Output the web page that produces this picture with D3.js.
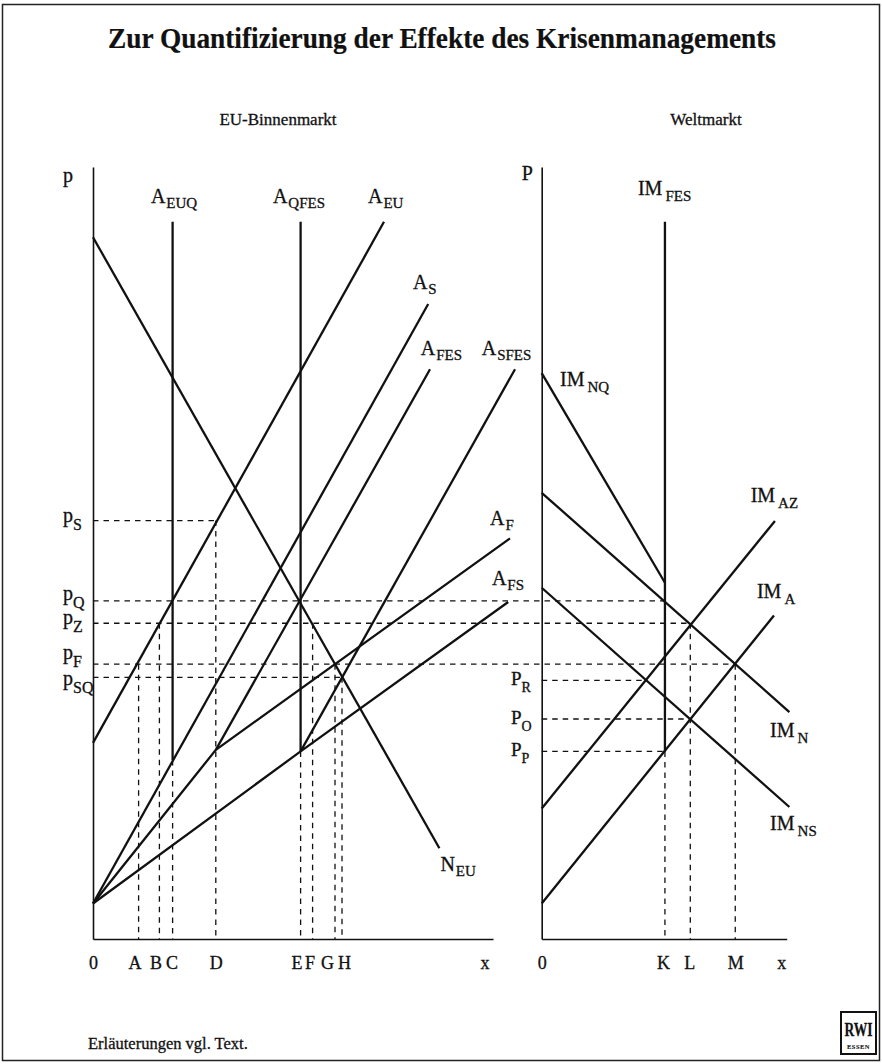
<!DOCTYPE html>
<html><head><meta charset="utf-8">
<script src="https://cdn.jsdelivr.net/npm/d3@7"></script>
<style>
body{margin:0;background:#fff}
svg{display:block}
text{font-family:"Liberation Serif","Times New Roman",serif;fill:#111;stroke:#111;stroke-width:0.3px}
</style>
</head><body>
<svg id="c" width="882" height="1064"></svg>
<script>
// ---------------- DATA ----------------
const titleText = "Zur Quantifizierung der Effekte des Krisenmanagements";
const panelTitles = ["EU-Binnenmarkt", "Weltmarkt"];
const footnote = "Erläuterungen vgl. Text.";

// quantity ticks (x)
const leftTickLabels = ["0", "A", "B", "C", "D", "E", "F", "G", "H"];
const leftTickValues = [0, 11.4, 16.6, 19.9, 30.7, 51.9, 54.9, 60.5, 62.25];
const rightTickLabels = ["0", "K", "L", "M"];
const rightTickValues = [0, 50.3, 60.65, 79.0];

// price levels (y)
const leftPriceLabels = ["S", "Q", "Z", "F", "SQ"];
const leftPriceValues = [54.2, 43.8, 40.9, 35.6, 33.9];
const rightPriceLabels = ["R", "O", "P"];
const rightPriceValues = [33.5, 28.5, 24.3];

// where each price guide ends: [panel, quantity]
const leftPriceGuideEnds = [["L", 30.7], ["R", 50.3], ["R", 60.65], ["R", 79.0], ["L", 62.25]];
const rightPriceGuideEnds = [42.2, 60.65, 50.3];
// price at which each quantity guide starts (aligned with ticks A..H and K..M)
const leftGuideTops = [35.6, 40.9, 23.2, 54.2, 24.3, 40.9, 35.6, 33.9];
const rightGuideTops = [24.3, 40.9, 35.6];

// EU internal market curves [quantity, price]
const N_EU   = [[0, 90.9], [86.6, 11.75]];
const A_EU   = [[0, 25.4], [72.75, 92.9]];
const A_EUQ  = [[19.9, 23.2], [19.9, 92.9]];
const A_QFES = [[51.9, 24.3], [51.9, 92.9]];
const A_S    = [[0, 4.6], [83.8, 82.25]];
const A_F    = [[0, 4.6], [30.7, 24.5], [104.25, 51.9]];
const A_FES  = [[30.7, 24.5], [84.25, 73.8]];
const A_FS   = [[0, 4.6], [51.9, 24.3], [103.8, 43.65]];
const A_SFES = [[51.9, 24.3], [105.5, 73.8]];

// world market curves
const IM_NQ  = [[0, 73.3], [50.3, 46.15]];
const IM_FES = [[50.3, 24.3], [50.3, 92.9]];
const IM_N   = [[0, 57.8], [101.1, 29.4]];
const IM_NS  = [[0, 45.5], [101.1, 17.1]];
const IM_AZ  = [[0, 16.9], [95.2, 54.15]];
const IM_A   = [[0, 4.6], [94.8, 41.9]];

// ---------------- SCALES ----------------
const svg = d3.select("#c");
const y  = d3.scaleLinear().domain([0, 100]).range([939, 167]);
const xL = d3.scaleLinear().domain([0, 100]).range([93, 493]);
const xR = d3.scaleLinear().domain([0, 100]).range([541.7, 786.7]);

const ink = "#111";

// frame
svg.append("rect").attr("x", 2.5).attr("y", 4.5).attr("width", 877).attr("height", 1056)
  .attr("fill", "none").attr("stroke", "#222").attr("stroke-width", 1.5);

// titles
svg.append("text").attr("x", 442).attr("y", 48).attr("text-anchor", "middle")
  .attr("font-size", 29).attr("font-weight", "bold").style("stroke-width", "0.2px")
  .attr("textLength", 668).attr("lengthAdjust", "spacingAndGlyphs").text(titleText);
svg.append("text").attr("x", 278).attr("y", 125).attr("text-anchor", "middle")
  .attr("font-size", 17).text(panelTitles[0]);
svg.append("text").attr("x", 706).attr("y", 125).attr("text-anchor", "middle")
  .attr("font-size", 17).text(panelTitles[1]);

// ---------------- GUIDES (dashed) ----------------
const guides = svg.append("g").attr("stroke", ink).attr("stroke-width", 1.3)
  .attr("stroke-dasharray", "5.5,5").attr("fill", "none");

leftPriceValues.forEach((p, i) => {
  const [panel, q] = leftPriceGuideEnds[i];
  guides.append("line").attr("x1", xL(0)).attr("x2", panel === "L" ? xL(q) : xR(q))
    .attr("y1", y(p)).attr("y2", y(p));
});
rightPriceValues.forEach((p, i) => {
  guides.append("line").attr("x1", xR(0)).attr("x2", xR(rightPriceGuideEnds[i]))
    .attr("y1", y(p)).attr("y2", y(p));
});
leftTickValues.slice(1).forEach((q, i) => {
  guides.append("line").attr("x1", xL(q)).attr("x2", xL(q))
    .attr("y1", y(leftGuideTops[i])).attr("y2", y(0));
});
rightTickValues.slice(1).forEach((q, i) => {
  guides.append("line").attr("x1", xR(q)).attr("x2", xR(q))
    .attr("y1", y(rightGuideTops[i])).attr("y2", y(0));
});

// ---------------- CURVES ----------------
const lineL = d3.line().x(d => xL(d[0])).y(d => y(d[1]));
const lineR = d3.line().x(d => xR(d[0])).y(d => y(d[1]));
const curvesG = svg.append("g").attr("fill", "none").attr("stroke", ink)
  .attr("stroke-width", 2.3).attr("stroke-linejoin", "round");

const leftCurves = [
  {pts: N_EU,   main: "N", sub: "EU",   end: 1, dx: 1,   dy: 23},
  {pts: A_EU,   main: "A", sub: "EU",   end: 1, dx: -16, dy: -18.7},
  {pts: A_EUQ,  main: "A", sub: "EUQ",  end: 1, dx: -21.7, dy: -18.7},
  {pts: A_QFES, main: "A", sub: "QFES", end: 1, dx: -27.7, dy: -18.7},
  {pts: A_S,    main: "A", sub: "S",    end: 1, dx: -15.3, dy: -15},
  {pts: A_F,    main: "A", sub: "F",    end: 2, dx: -20, dy: -13.3},
  {pts: A_FES,  main: "A", sub: "FES",  end: 1, dx: -9.3, dy: -14.3},
  {pts: A_FS,   main: "A", sub: "FS",   end: 2, dx: -16.3, dy: -17},
  {pts: A_SFES, main: "A", sub: "SFES", end: 1, dx: -33.3, dy: -14.3}
];
const rightCurves = [
  {pts: IM_NQ,  main: "IM", sub: "NQ",  end: 0, dx: 18.3, dy: 13},
  {pts: IM_FES, main: "IM", sub: "FES", end: 1, dx: -27, dy: -26.7},
  {pts: IM_N,   main: "IM", sub: "N",   end: 1, dx: -19.3, dy: 25},
  {pts: IM_NS,  main: "IM", sub: "NS",  end: 1, dx: -19.3, dy: 23.3},
  {pts: IM_AZ,  main: "IM", sub: "AZ",  end: 1, dx: -24.3, dy: -19.3},
  {pts: IM_A,   main: "IM", sub: "A",   end: 1, dx: -17, dy: -17.7}
];

function subLabel(g, x, yy, main, sub, mainSize, subSize, subDy, gap) {
  const t = g.append("text").attr("x", x).attr("y", yy).attr("font-size", mainSize);
  t.append("tspan").text(main);
  t.append("tspan").attr("font-size", subSize).attr("dx", gap).attr("dy", subDy).text(sub);
  return t;
}

const labelsG = svg.append("g");
leftCurves.forEach(c => {
  curvesG.append("path").attr("d", lineL(c.pts));
  const e = c.pts[c.end];
  subLabel(labelsG, xL(e[0]) + c.dx, y(e[1]) + c.dy, c.main, c.sub, 20, 15, 5, 1);
});
rightCurves.forEach(c => {
  curvesG.append("path").attr("d", lineR(c.pts));
  const e = c.pts[c.end];
  subLabel(labelsG, xR(e[0]) + c.dx, y(e[1]) + c.dy, c.main, c.sub, 20, 15, 6, 3);
});

// ---------------- AXES ----------------
const tickNudgeL = [0, -4, -4, -1, 0, -4, -3, -8, 2];
const tickNudgeR = [0, -2, -1, 0];

const axL = svg.append("g").attr("transform", `translate(0,${y(0)})`)
  .call(d3.axisBottom(xL).tickValues(leftTickValues).tickFormat((d, i) => leftTickLabels[i])
    .tickSize(0).tickPadding(17).tickSizeOuter(0));
const axR = svg.append("g").attr("transform", `translate(0,${y(0)})`)
  .call(d3.axisBottom(xR).tickValues(rightTickValues).tickFormat((d, i) => rightTickLabels[i])
    .tickSize(0).tickPadding(17).tickSizeOuter(0));
[[axL, tickNudgeL], [axR, tickNudgeR]].forEach(([ax, nudge]) => {
  ax.select(".domain").attr("stroke", ink).attr("stroke-width", 1.6);
  ax.selectAll(".tick text").attr("font-size", 18).attr("fill", ink)
    .attr("font-family", '"Liberation Serif","Times New Roman",serif')
    .attr("dx", (d, i) => nudge[i]);
});
const ayL = svg.append("g").attr("transform", `translate(${xL(0)},0)`)
  .call(d3.axisLeft(y).tickValues([]).tickSizeOuter(0));
const ayR = svg.append("g").attr("transform", `translate(${xR(0)},0)`)
  .call(d3.axisLeft(y).tickValues([]).tickSizeOuter(0));
[ayL, ayR].forEach(a => a.select(".domain").attr("stroke", ink).attr("stroke-width", 1.6));

// axis end labels
svg.append("text").attr("x", xL(98)).attr("y", 969).attr("text-anchor", "middle").attr("font-size", 18).text("x");
svg.append("text").attr("x", xR(98)).attr("y", 969).attr("text-anchor", "middle").attr("font-size", 18).text("x");
svg.append("text").attr("x", xL(0) - 30).attr("y", 182).attr("font-size", 20).text("p");
svg.append("text").attr("x", xR(0) - 20).attr("y", 180).attr("font-size", 20).text("P");

// price labels (per-label vertical nudge of the main glyph relative to its guide)
const leftPriceNudge = [1, -1, 1, -5, 8];
leftPriceValues.forEach((p, i) => {
  subLabel(labelsG, 63, y(p) + leftPriceNudge[i], "p", leftPriceLabels[i], 20, 16, 8, 0);
});
rightPriceValues.forEach((p, i) => {
  subLabel(labelsG, 511, y(p) + 5, "P", rightPriceLabels[i], 19, 14, 7, 0);
});

// footnote
svg.append("text").attr("x", 88).attr("y", 1049).attr("font-size", 16.5).text(footnote);

// RWI logo
const logo = svg.append("g");
logo.append("rect").attr("x", 841).attr("y", 1012).attr("width", 35).attr("height", 42)
  .attr("fill", "none").attr("stroke", ink).attr("stroke-width", 2);
logo.append("text").attr("transform", "translate(858.5,1036) scale(1,1.4)")
  .attr("text-anchor", "middle").attr("font-size", 13.5).attr("font-weight", "bold")
  .style("stroke-width", "0.2px").text("RWI");
logo.append("text").attr("x", 858.5).attr("y", 1049).attr("text-anchor", "middle")
  .attr("font-size", 6.5).attr("font-weight", "bold").style("stroke-width", "0.1px")
  .attr("letter-spacing", 0.5).text("ESSEN");
</script>
</body></html>
